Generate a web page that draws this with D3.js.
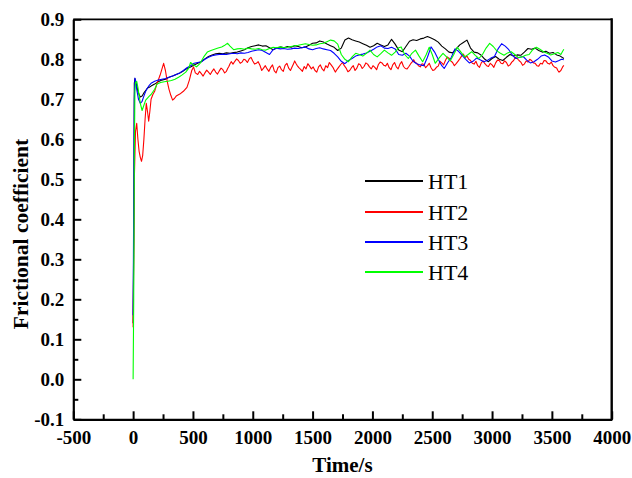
<!DOCTYPE html>
<html><head><meta charset="utf-8">
<script src="https://cdn.jsdelivr.net/npm/d3@7"></script>
<style>body{margin:0;background:#fff}</style></head>
<body><svg id="c" width="632" height="478"></svg>
<script>
const xTicks=[-500,0,500,1000,1500,2000,2500,3000,3500,4000];
const xMinor=[-250,250,750,1250,1750,2250,2750,3250,3750];
const yTicks=[-0.1,0,0.1,0.2,0.3,0.4,0.5,0.6,0.7,0.8,0.9];
const yMinor=[-0.05,0.05,0.15,0.25,0.35,0.45,0.55,0.65,0.75,0.85];
const seriesNames=["HT1","HT2","HT3","HT4"];
const seriesColors=["#000000","#ff0000","#0000ff","#00ff00"];

const HT1=[[0,0.14],[5,0.35],[10,0.74],[15,0.752],[20,0.745],[30,0.735],[40,0.72],[50,0.712],[60,0.706],[75,0.708],[90,0.716],[105,0.722],[120,0.728],[135,0.73],[150,0.733],
[180,0.738],[210,0.744],[240,0.748],[270,0.75],[300,0.755],[330,0.758],[360,0.762],[390,0.766],[420,0.771],[450,0.777],[480,0.781],[510,0.786],[540,0.79],[570,0.794],[600,0.801],[630,0.807],[660,0.811],[690,0.814],[720,0.815],[750,0.814],[780,0.816],[810,0.815],[840,0.817],[870,0.818],[900,0.821],[930,0.824],[960,0.829],[990,0.832],[1020,0.834],[1050,0.836],[1080,0.833],[1110,0.834],[1140,0.829],[1170,0.824],[1200,0.828],[1230,0.831],[1260,0.829],[1290,0.832],[1320,0.83],[1350,0.834],[1380,0.832],[1410,0.829],[1440,0.831],[1470,0.835],[1500,0.84],[1530,0.841],[1560,0.846],[1590,0.843],[1620,0.838],[1650,0.834],[1680,0.83],[1710,0.822],[1740,0.828],[1770,0.848],[1800,0.853],[1830,0.849],[1860,0.846],[1890,0.843],[1920,0.839],[1950,0.835],[1980,0.83],[2010,0.834],[2040,0.84],[2070,0.836],[2100,0.832],[2130,0.836],[2160,0.85],[2190,0.838],[2220,0.823],[2250,0.819],[2280,0.832],[2310,0.845],[2340,0.849],[2370,0.847],[2400,0.851],[2430,0.853],[2460,0.857],[2490,0.853],[2520,0.849],[2550,0.843],[2580,0.833],[2610,0.826],[2640,0.818],[2670,0.816],[2700,0.826],[2730,0.836],[2760,0.842],[2790,0.848],[2820,0.828],[2850,0.818],[2880,0.816],[2910,0.81],[2940,0.8],[2970,0.794],[3000,0.802],[3030,0.807],[3060,0.8],[3090,0.797],[3120,0.805],[3150,0.812],[3180,0.808],[3210,0.811],[3240,0.81],[3270,0.818],[3300,0.827],[3330,0.825],[3360,0.828],[3390,0.822],[3420,0.818],[3450,0.82],[3480,0.815],[3510,0.817],[3540,0.811],[3570,0.808],[3600,0.802]];

const HT2=[[0,0.13],[5,0.3],[10,0.5],[20,0.62],[30,0.64],[40,0.6],[50,0.57],[60,0.555],[70,0.545],[80,0.56],[90,0.6],[100,0.65],[110,0.69],[120,0.67],[130,0.645],[140,0.67],[150,0.7],[165,0.712],
[180,0.72],[195,0.735],[210,0.748],[225,0.76],[240,0.775],[255,0.79],[270,0.772],[285,0.745],[300,0.725],[315,0.71],[330,0.698],[345,0.702],[360,0.708],[390,0.713],[420,0.72],[450,0.73],[470,0.748],[490,0.772],[505,0.781],[520,0.766],
[540,0.762],[555,0.770],[570,0.764],[585,0.758],[600,0.766],[615,0.773],[630,0.768],[645,0.762],[660,0.77],[675,0.776],[690,0.768],[705,0.763],[720,0.771],[735,0.778],[750,0.774],[765,0.766],[780,0.77],[790,0.777],[800,0.782],[810,0.789],[820,0.794],[835,0.788],[850,0.795],[865,0.801],[880,0.797],[895,0.790],[910,0.793],[925,0.800],[940,0.798],[955,0.792],[970,0.801],[985,0.805],[1000,0.796],[1015,0.788],[1030,0.79],[1045,0.794],[1060,0.785],[1075,0.772],[1090,0.778],[1105,0.784],[1120,0.776],[1135,0.770],[1150,0.78],[1165,0.786],[1180,0.771],[1195,0.766],[1210,0.779],[1225,0.783],[1240,0.774],[1255,0.770],[1270,0.785],[1285,0.790],[1300,0.778],[1315,0.772],[1330,0.782],[1340,0.788],[1350,0.796],[1360,0.790],[1370,0.785],[1385,0.779],[1400,0.775],[1415,0.770],[1430,0.782],[1445,0.776],[1460,0.789],[1475,0.783],[1490,0.776],[1505,0.781],[1520,0.772],[1535,0.768],[1550,0.781],[1565,0.786],[1580,0.776],[1595,0.771],[1610,0.784],[1625,0.779],[1640,0.792],[1655,0.786],[1670,0.78],[1680,0.774],[1690,0.768],[1705,0.775],[1720,0.781],[1735,0.787],[1750,0.792],[1765,0.784],[1780,0.778],[1795,0.769],[1810,0.772],[1825,0.779],[1840,0.784],[1855,0.772],[1870,0.778],[1885,0.789],[1900,0.786],[1915,0.777],[1930,0.782],[1945,0.791],[1960,0.788],[1975,0.781],[1990,0.776],[2005,0.784],[2020,0.78],[2035,0.774],[2050,0.787],[2065,0.793],[2080,0.791],[2095,0.785],[2110,0.783],[2125,0.790],[2140,0.779],[2155,0.774],[2170,0.786],[2185,0.792],[2200,0.781],[2215,0.776],[2230,0.788],[2245,0.794],[2260,0.782],[2275,0.777],[2290,0.776],[2305,0.782],[2320,0.789],[2335,0.794],[2345,0.799],[2357,0.792],[2370,0.79],[2385,0.784],[2400,0.781],[2415,0.789],[2430,0.787],[2445,0.779],[2460,0.784],[2475,0.790],[2490,0.779],[2505,0.772],[2520,0.774],[2535,0.780],[2550,0.783],[2565,0.795],[2580,0.791],[2595,0.786],[2610,0.797],[2625,0.806],[2640,0.803],[2655,0.796],[2670,0.792],[2685,0.784],[2700,0.789],[2715,0.795],[2730,0.801],[2745,0.808],[2760,0.813],[2775,0.804],[2790,0.808],[2805,0.800],[2820,0.797],[2835,0.790],[2850,0.788],[2865,0.795],[2880,0.784],[2895,0.780],[2910,0.791],[2925,0.796],[2940,0.789],[2955,0.784],[2970,0.782],[2985,0.790],[3000,0.786],[3015,0.780],[3030,0.791],[3045,0.798],[3060,0.797],[3075,0.790],[3090,0.789],[3105,0.796],[3120,0.792],[3135,0.783],[3150,0.786],[3165,0.793],[3180,0.797],[3195,0.805],[3210,0.802],[3225,0.797],[3240,0.793],[3255,0.785],[3270,0.788],[3285,0.796],[3300,0.793],[3315,0.800],[3330,0.797],[3345,0.791],[3360,0.79],[3375,0.784],[3390,0.783],[3405,0.790],[3420,0.788],[3435,0.797],[3450,0.796],[3465,0.790],[3480,0.788],[3495,0.793],[3510,0.784],[3525,0.780],[3540,0.778],[3550,0.772],[3560,0.768],[3575,0.772],[3590,0.781],[3600,0.785]];

const HT3=[[0,0.16],[5,0.45],[10,0.7],[15,0.753],[20,0.748],[30,0.725],[45,0.7],[60,0.69],[75,0.695],[90,0.708],[105,0.72],[120,0.728],[135,0.735],[150,0.74],
[180,0.745],[210,0.748],[240,0.75],[270,0.752],[300,0.755],[330,0.758],[360,0.762],[390,0.766],[420,0.772],[450,0.779],[480,0.784],[510,0.79],[540,0.792],[570,0.794],[600,0.8],[630,0.805],[660,0.809],[690,0.811],[720,0.812],[750,0.813],[780,0.812],[810,0.814],[840,0.815],[870,0.814],[900,0.816],[930,0.815],[960,0.817],[990,0.82],[1020,0.822],[1050,0.824],[1080,0.822],[1110,0.817],[1140,0.812],[1170,0.824],[1200,0.828],[1230,0.826],[1260,0.827],[1290,0.825],[1320,0.826],[1350,0.828],[1380,0.827],[1410,0.829],[1440,0.831],[1470,0.826],[1500,0.824],[1530,0.827],[1560,0.829],[1590,0.826],[1620,0.824],[1650,0.822],[1680,0.815],[1710,0.806],[1740,0.795],[1770,0.789],[1800,0.797],[1830,0.802],[1860,0.808],[1890,0.811],[1920,0.813],[1950,0.816],[1980,0.82],[2010,0.825],[2040,0.831],[2070,0.834],[2100,0.828],[2130,0.827],[2160,0.83],[2190,0.826],[2220,0.812],[2250,0.81],[2280,0.815],[2310,0.808],[2340,0.795],[2370,0.789],[2400,0.786],[2430,0.784],[2460,0.805],[2490,0.831],[2520,0.818],[2550,0.8],[2580,0.784],[2600,0.777],[2630,0.792],[2660,0.805],[2690,0.826],[2720,0.82],[2750,0.81],[2780,0.8],[2810,0.791],[2840,0.795],[2870,0.803],[2900,0.799],[2930,0.794],[2960,0.797],[2990,0.803],[3020,0.807],[3050,0.826],[3080,0.839],[3110,0.833],[3140,0.824],[3170,0.81],[3200,0.802],[3230,0.805],[3260,0.807],[3290,0.798],[3320,0.791],[3350,0.794],[3380,0.8],[3410,0.808],[3440,0.811],[3470,0.806],[3500,0.796],[3530,0.793],[3560,0.797],[3580,0.8],[3600,0.799]];

const HT4=[[0,0.0],[5,0.2],[10,0.55],[15,0.72],[20,0.742],[30,0.745],[40,0.73],[50,0.71],[60,0.69],[75,0.672],[90,0.685],[105,0.698],[120,0.703],[135,0.708],[150,0.712],
[180,0.725],[200,0.738],[230,0.742],[260,0.744],[290,0.745],[320,0.747],[350,0.75],[380,0.755],[410,0.761],[440,0.768],[465,0.778],[480,0.792],[500,0.787],[530,0.781],[560,0.79],[590,0.806],[620,0.818],[650,0.822],[680,0.825],[710,0.828],[740,0.831],[770,0.836],[790,0.84],[810,0.833],[840,0.824],[870,0.826],[900,0.827],[930,0.825],[960,0.828],[990,0.826],[1020,0.825],[1050,0.827],[1080,0.824],[1110,0.823],[1140,0.827],[1170,0.83],[1200,0.829],[1230,0.831],[1260,0.829],[1290,0.83],[1320,0.832],[1350,0.834],[1380,0.835],[1410,0.837],[1440,0.839],[1470,0.837],[1500,0.835],[1530,0.836],[1560,0.839],[1590,0.84],[1620,0.844],[1650,0.848],[1680,0.846],[1710,0.838],[1740,0.812],[1770,0.8],[1800,0.794],[1830,0.806],[1860,0.815],[1890,0.812],[1920,0.808],[1950,0.815],[1980,0.823],[2010,0.812],[2040,0.806],[2070,0.814],[2100,0.823],[2130,0.816],[2160,0.81],[2190,0.818],[2220,0.829],[2240,0.831],[2270,0.812],[2300,0.802],[2330,0.815],[2360,0.823],[2390,0.808],[2420,0.794],[2450,0.812],[2475,0.83],[2500,0.812],[2525,0.79],[2560,0.804],[2590,0.815],[2620,0.806],[2650,0.796],[2680,0.812],[2710,0.83],[2740,0.818],[2770,0.806],[2800,0.812],[2830,0.819],[2860,0.81],[2890,0.802],[2920,0.812],[2950,0.828],[2980,0.84],[3010,0.832],[3040,0.821],[3070,0.815],[3100,0.81],[3130,0.816],[3160,0.819],[3190,0.812],[3220,0.804],[3250,0.806],[3280,0.81],[3310,0.812],[3340,0.824],[3370,0.83],[3400,0.825],[3430,0.819],[3460,0.815],[3490,0.811],[3520,0.814],[3550,0.817],[3575,0.812],[3590,0.82],[3600,0.825]];

const seriesData=[HT1,HT2,HT3,HT4];

const L=73.3,R=611.7,T=19.3,B=419.3;
const FONT='"Liberation Serif","Times New Roman",serif';
const svg=d3.select('#c');
const x=d3.scaleLinear().domain([-500,4000]).range([L,R]);
const y=d3.scaleLinear().domain([-0.1,0.9]).range([B,T]);

const line=d3.line().x(d=>x(d[0])).y(d=>y(d[1]));
const g=svg.append('g');
seriesData.forEach((s,i)=>{
  g.append('path').datum(s).attr('d',line).attr('fill','none')
   .attr('stroke',seriesColors[i]).attr('stroke-width',1.1).attr('stroke-linejoin','round');
});

svg.append('g').attr('transform',`translate(0,${B})`)
  .call(d3.axisBottom(x).tickValues(xTicks).tickSizeInner(-8).tickSizeOuter(0).tickPadding(11).tickFormat(d=>String(d)));
svg.append('g').attr('transform',`translate(0,${B})`)
  .call(d3.axisBottom(x).tickValues(xMinor).tickSizeInner(-5).tickSizeOuter(0).tickFormat(''))
  .call(a=>a.select('.domain').remove());
svg.append('g').attr('transform',`translate(${L},0)`)
  .call(d3.axisLeft(y).tickValues(yTicks).tickSizeInner(-8).tickSizeOuter(0).tickPadding(9).tickFormat(d=>d.toFixed(1)));
svg.append('g').attr('transform',`translate(${L},0)`)
  .call(d3.axisLeft(y).tickValues(yMinor).tickSizeInner(-5).tickSizeOuter(0).tickFormat(''))
  .call(a=>a.select('.domain').remove());
svg.selectAll('.tick line').attr('stroke','#000').attr('stroke-width',2);
svg.selectAll('.domain').attr('stroke','#000').attr('stroke-width',2.2);
svg.selectAll('.tick text').attr('font-family',FONT).attr('font-weight','bold').attr('font-size',19).attr('fill','#000');

svg.append('line').attr('x1',L).attr('x2',R).attr('y1',T).attr('y2',T).attr('stroke','#000').attr('stroke-width',1.8);
svg.append('line').attr('x1',R).attr('x2',R).attr('y1',T-1).attr('y2',B+1).attr('stroke','#000').attr('stroke-width',2.4);

svg.append('text').attr('x',(L+R)/2).attr('y',472).attr('text-anchor','middle')
  .attr('font-family',FONT).attr('font-weight','bold').attr('font-size',21).text('Time/s');
svg.append('text').attr('transform','translate(28,234) rotate(-90)').attr('text-anchor','middle')
  .attr('font-family',FONT).attr('font-weight','bold').attr('font-size',21.5).text('Frictional coefficient');

const legY=[181,212,242,272];
seriesNames.forEach((n,i)=>{
  svg.append('line').attr('x1',365).attr('x2',423).attr('y1',legY[i]).attr('y2',legY[i])
    .attr('stroke',seriesColors[i]).attr('stroke-width',2);
  svg.append('text').attr('x',428).attr('y',legY[i]).attr('dy','0.35em')
    .attr('font-family',FONT).attr('font-size',22).attr('fill','#000').text(n);
});
</script></body></html>
